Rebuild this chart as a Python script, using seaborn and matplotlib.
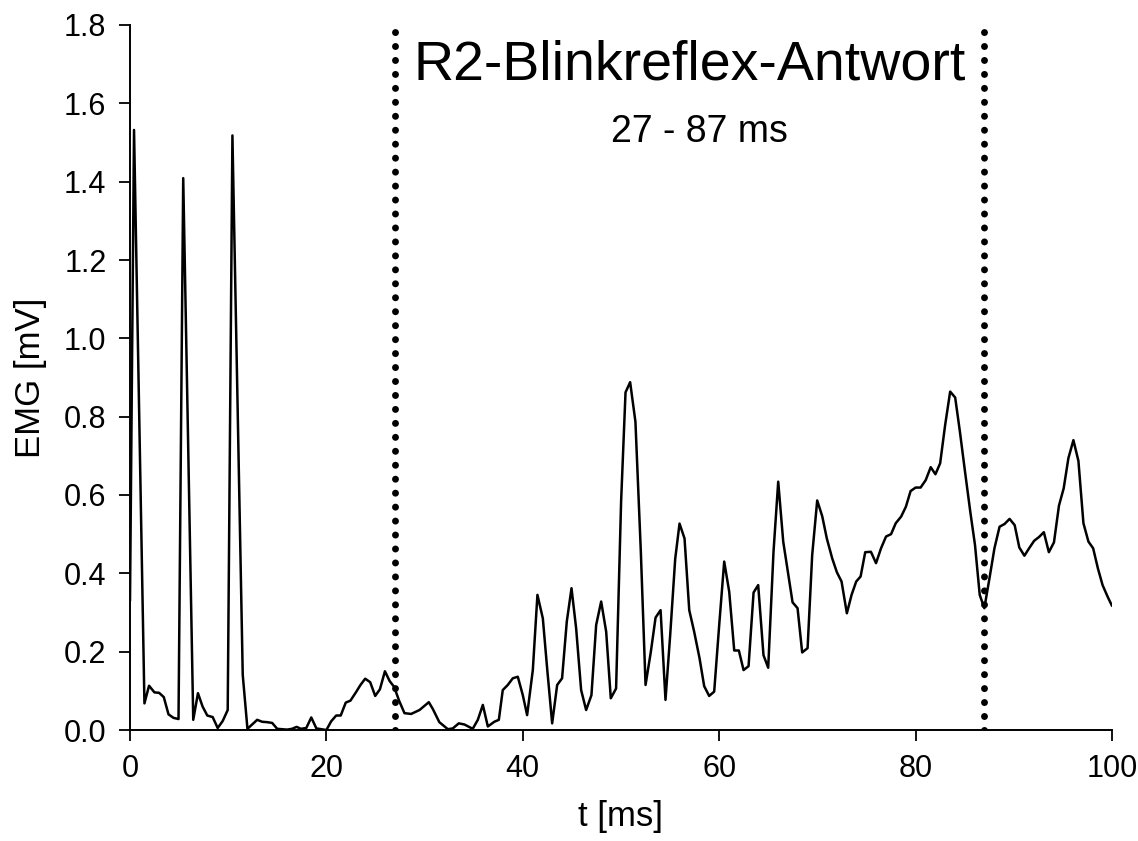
import numpy as np
import pandas as pd
import matplotlib
matplotlib.use("Agg")
import matplotlib.pyplot as plt
import seaborn as sns

# ---- data ----
t_ms = [0.0, 0.41, 1.47, 1.94, 2.49, 2.96, 3.44, 3.92, 4.43, 4.94, 5.42, 6.44, 6.92, 7.39, 7.87,
        8.42, 8.93, 9.44, 9.95, 10.43, 11.48, 11.96, 12.44, 12.95, 13.46, 13.97, 14.48, 14.99,
        15.5, 16.0, 16.5, 16.97, 17.4, 17.95, 18.46, 18.98, 19.52, 20.0, 20.48, 21.0, 21.46,
        21.97, 22.45, 23.0, 23.47, 23.95, 24.46, 24.97, 25.45, 25.96, 26.44, 26.9, 27.4, 27.95,
        28.63, 29.48, 30.43, 30.83, 31.5, 32.37, 32.87, 33.48, 34.06, 34.9, 35.42, 35.93, 36.44,
        37.1, 37.56, 37.96, 38.47, 38.98, 39.49, 40.0, 40.44, 41.02, 41.49, 42.04, 42.48, 42.99,
        43.5, 44.0, 44.48, 44.96, 45.43, 45.94, 46.45, 46.99, 47.47, 47.98, 48.49, 48.96, 49.5,
        50.01, 50.46, 50.93, 51.47, 52.02, 52.5, 53.04, 53.52, 54.03, 54.53, 55.01, 55.52,
        55.96, 56.47, 56.95, 57.45, 58.0, 58.47, 58.98, 59.49, 60.0, 60.51, 61.02, 61.53, 62.0,
        62.48, 62.99, 63.5, 63.97, 64.51, 64.99, 65.53, 66.01, 66.52, 66.99, 67.47, 67.98,
        68.45, 69.0, 69.47, 69.98, 70.49, 70.96, 71.51, 71.98, 72.46, 73.0, 73.48, 73.95,
        74.4, 74.87, 75.45, 75.97, 76.48, 76.99, 77.5, 77.98, 78.53, 79.01, 79.49, 80.0, 80.51,
        81.03, 81.54, 82.02, 82.5, 83.01, 83.52, 84.03, 84.51, 85.03, 85.57, 86.05, 86.53, 87.0,
        87.52, 88.03, 88.55, 89.06, 89.57, 90.09, 90.56, 91.08, 91.56, 92.07, 92.58, 93.06,
        93.57, 94.09, 94.6, 95.08, 95.56, 96.07, 96.58, 97.09, 97.6, 98.08, 98.56, 99.04,
        99.56, 100.0]
emg_mv = [0.33, 1.532, 0.068, 0.113, 0.096, 0.095, 0.084, 0.040, 0.031, 0.028, 1.409, 0.026,
          0.094, 0.060, 0.037, 0.033, 0.005, 0.023, 0.051, 1.518, 0.141, 0.003, 0.014, 0.026,
          0.021, 0.020, 0.018, 0.003, 0.002, 0.001, 0.003, 0.008, 0.003, 0.005, 0.032, 0.004,
          0.002, 0.0, 0.022, 0.037, 0.037, 0.070, 0.075, 0.096, 0.115, 0.131, 0.122, 0.087,
          0.104, 0.150, 0.125, 0.110, 0.075, 0.043, 0.041, 0.051, 0.071, 0.054, 0.020, 0.002,
          0.004, 0.017, 0.014, 0.003, 0.026, 0.064, 0.009, 0.021, 0.026, 0.102, 0.115, 0.132,
          0.136, 0.089, 0.038, 0.153, 0.345, 0.285, 0.157, 0.017, 0.115, 0.132, 0.277, 0.362,
          0.260, 0.102, 0.051, 0.089, 0.268, 0.328, 0.251, 0.081, 0.106, 0.583, 0.862, 0.888,
          0.787, 0.455, 0.115, 0.200, 0.287, 0.306, 0.077, 0.243, 0.437, 0.527, 0.489, 0.306,
          0.251, 0.183, 0.112, 0.087, 0.098, 0.268, 0.430, 0.353, 0.203, 0.203, 0.153, 0.163,
          0.351, 0.370, 0.191, 0.159, 0.455, 0.634, 0.481, 0.404, 0.326, 0.311, 0.198, 0.209,
          0.447, 0.586, 0.546, 0.489, 0.438, 0.403, 0.379, 0.298, 0.345, 0.379,
          0.392, 0.454, 0.455, 0.426, 0.464, 0.494, 0.500, 0.528, 0.545, 0.570, 0.610, 0.619,
          0.619, 0.638, 0.671, 0.653, 0.681, 0.779, 0.864, 0.849, 0.762, 0.660, 0.557, 0.472,
          0.345, 0.311, 0.387, 0.464, 0.519, 0.526, 0.539, 0.523, 0.466, 0.445, 0.464, 0.483,
          0.493, 0.505, 0.454, 0.479, 0.573, 0.617, 0.694, 0.740, 0.687, 0.528, 0.481, 0.464,
          0.413, 0.370, 0.340, 0.317]

window_ms = [27, 87]
x_ticks = [0, 20, 40, 60, 80, 100]
y_ticks = [0.0, 0.2, 0.4, 0.6, 0.8, 1.0, 1.2, 1.4, 1.6, 1.8]
title_text = "R2-Blinkreflex-Antwort"
window_text = "27 - 87 ms"

# ---- plotting ----
sns.set_theme(style="ticks")
plt.rcParams['font.family'] = ['Liberation Sans', 'DejaVu Sans']

fig = plt.figure(figsize=(11.38, 8.41), dpi=100)
ax = fig.add_axes([130 / 1138, 1 - 730 / 841, (1112 - 130) / 1138, (730 - 25) / 841])

df = pd.DataFrame({"t": t_ms, "emg": emg_mv})
sns.lineplot(data=df, x="t", y="emg", ax=ax, color="black", linewidth=1.8,
             estimator=None, sort=False)

for w in window_ms:
    ax.axvline(w, color="black", linewidth=5.0, linestyle=(0, (0.01, 2.0)),
               dash_capstyle="round", zorder=3)

ax.set_xlim(0, 100)
ax.set_ylim(0, 1.8)
ax.set_xticks(x_ticks)
ax.set_yticks(y_ticks)
ax.set_xticklabels([str(v) for v in x_ticks])
ax.set_yticklabels([f"{v:.1f}" for v in y_ticks])
ax.tick_params(axis="both", direction="out", length=8, width=1.3, labelsize=22,
               color="black", labelcolor="black", pad=9)
for s in ["top", "right"]:
    ax.spines[s].set_visible(False)
for s in ["left", "bottom"]:
    ax.spines[s].set_color("black")
    ax.spines[s].set_linewidth(1.4)

ax.set_xlabel("t [ms]", fontsize=25, color="black", labelpad=12)
ax.set_ylabel("EMG [mV]", fontsize=25, color="black", labelpad=12)

ax.text(57, 1.66, title_text, fontsize=40, ha="center", va="baseline", color="black")
ax.text(58, 1.50, window_text, fontsize=27, ha="center", va="baseline", color="black")

fig.savefig("out.png", dpi=100, facecolor="white")
